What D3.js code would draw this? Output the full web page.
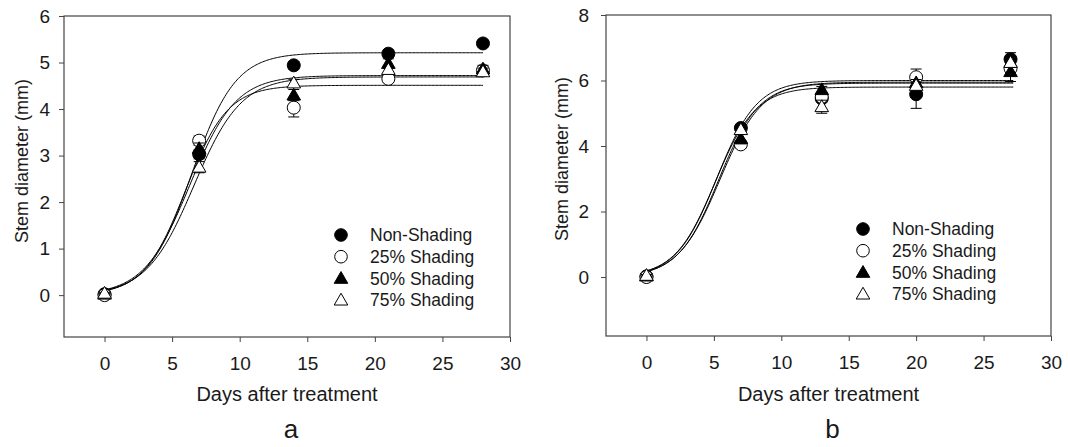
<!DOCTYPE html>
<html>
<head>
<meta charset="utf-8">
<script src="https://cdn.jsdelivr.net/npm/d3@7/dist/d3.min.js"></script>
<style>
  body { margin: 0; background: #fff; }
  svg { display: block; }
</style>
</head>
<body>
<svg id="chart" width="1068" height="447"></svg>
<script>
// Series names
const seriesNames = ['Non-Shading', '25% Shading', '50% Shading', '75% Shading'];

// Panel a: days and means
const daysA = [0, 7, 14, 21, 28];
const nonShadingA = [0.02, 3.03, 4.94, 5.19, 5.41];
const shade25A = [0.00, 3.32, 4.03, 4.65, 4.83];
const shade50A = [0.02, 3.15, 4.30, 4.98, 4.86];
const shade75A = [0.04, 2.75, 4.56, 4.85, 4.80];
// standard errors
const seNonShadingA = [0.02, 0.10, 0.08, 0.08, 0.06];
const seShade25A = [0.02, 0.10, 0.20, 0.08, 0.08];
const seShade50A = [0.02, 0.12, 0.12, 0.10, 0.08];
const seShade75A = [0.02, 0.12, 0.08, 0.08, 0.08];
// sigmoid fits (a / (1 + exp(-(x - x0) / b)))
const fitAsymA = [5.21, 4.51, 4.72, 4.69];
const fitMidA = [6.45, 6.00, 6.30, 6.60];
const fitRateA = [1.62, 1.55, 1.70, 1.75];

// Panel b
const daysB = [0, 7, 13, 20, 27];
const nonShadingB = [0.02, 4.55, 5.45, 5.58, 6.65];
const shade25B = [0.00, 4.05, 5.50, 6.10, 6.37];
const shade50B = [0.03, 4.22, 5.72, 5.93, 6.27];
const shade75B = [0.05, 4.50, 5.20, 5.85, 6.55];
const seNonShadingB = [0.03, 0.10, 0.10, 0.43, 0.20];
const seShade25B = [0.03, 0.10, 0.10, 0.25, 0.15];
const seShade50B = [0.03, 0.15, 0.10, 0.10, 0.30];
const seShade75B = [0.03, 0.10, 0.20, 0.10, 0.15];
const fitAsymB = [6.00, 5.95, 5.92, 5.80];
const fitMidB = [5.20, 5.45, 5.35, 5.10];
const fitRateB = [1.50, 1.55, 1.50, 1.50];

// Tick labels
const xTicks = [0, 5, 10, 15, 20, 25, 30];
const yTicksA = [0, 1, 2, 3, 4, 5, 6];
const yTicksB = [0, 2, 4, 6, 8];

// marker styles per series
const markerShape = ['circle', 'circle', 'triangle', 'triangle'];
const markerFill = ['#000', '#fff', '#000', '#fff'];

const font = '"Liberation Sans", Arial, sans-serif';
const textColor = '#1a1a1a';
const svg = d3.select('#chart');

function drawPanel(cfg) {
    const x = d3.scaleLinear().domain([-3, 30]).range([cfg.left, cfg.right]);
    const y = d3.scaleLinear().domain(cfg.yDomain).range([cfg.bottom, cfg.top]);
    const g = svg.append('g');

    // Frame
    g.append('rect')
        .attr('x', cfg.left).attr('y', cfg.top)
        .attr('width', cfg.right - cfg.left).attr('height', cfg.bottom - cfg.top)
        .attr('fill', 'none').attr('stroke', '#444').attr('stroke-width', 1.2);

    // Axes
    const styleAxis = a => {
        a.select('.domain').remove();
        a.selectAll('line').attr('stroke', '#444');
        a.selectAll('text').attr('font-family', font).attr('font-size', 19).attr('fill', textColor);
    };
    g.append('g')
        .attr('transform', `translate(0,${cfg.bottom})`)
        .call(d3.axisBottom(x).tickValues(xTicks).tickFormat(d3.format('d')).tickSize(5).tickPadding(15))
        .call(styleAxis);

    g.append('g')
        .attr('transform', `translate(${cfg.left},0)`)
        .call(d3.axisLeft(y).tickValues(cfg.yTicks).tickFormat(d3.format('d')).tickSize(5).tickPadding(cfg.yPad))
        .call(styleAxis);

    // Titles
    g.append('text')
        .attr('x', (cfg.left + cfg.right) / 2).attr('y', 401)
        .attr('text-anchor', 'middle').attr('font-family', font).attr('font-size', 20).attr('fill', textColor)
        .text('Days after treatment');
    g.append('text')
        .attr('transform', `translate(${cfg.yTitleX},${cfg.yTitleY}) rotate(-90)`)
        .attr('text-anchor', 'middle').attr('dy', '0.35em')
        .attr('font-family', font).attr('font-size', 18).attr('fill', textColor)
        .text('Stem diameter (mm)');
    g.append('text')
        .attr('x', (cfg.left + cfg.right) / 2 + 4).attr('y', 438)
        .attr('text-anchor', 'middle').attr('font-family', font).attr('font-size', 26).attr('fill', textColor)
        .text(cfg.letter);

    // Fitted curves
    const line = d3.line().x(d => x(d[0])).y(d => y(d[1]));
    cfg.asym.forEach((a, i) => {
        const pts = d3.range(0, cfg.lastDay + 0.001, 0.1)
            .map(t => [t, a / (1 + Math.exp(-(t - cfg.mid[i]) / cfg.rate[i]))]);
        g.append('path').datum(pts)
            .attr('d', line).attr('fill', 'none')
            .attr('stroke', '#000').attr('stroke-width', 1);
    });

    // Points with error bars
    const tri = d3.symbol(d3.symbolTriangle, 80)();
    cfg.values.forEach((vals, i) => {
        const sg = g.append('g');
        vals.forEach((v, j) => {
            const cx = x(cfg.days[j]);
            const se = cfg.errors[i][j];
            sg.append('line')
                .attr('x1', cx).attr('x2', cx)
                .attr('y1', y(v - se)).attr('y2', y(v + se))
                .attr('stroke', '#000').attr('stroke-width', 1);
            [v - se, v + se].forEach(e => {
                sg.append('line')
                    .attr('x1', cx - 5.5).attr('x2', cx + 5.5)
                    .attr('y1', y(e)).attr('y2', y(e))
                    .attr('stroke', '#000').attr('stroke-width', 1);
            });
        });
        vals.forEach((v, j) => {
            const cx = x(cfg.days[j]);
            if (markerShape[i] === 'circle') {
                sg.append('circle').attr('cx', cx).attr('cy', y(v)).attr('r', 6.5)
                    .attr('fill', markerFill[i]).attr('stroke', '#000').attr('stroke-width', 1);
            } else {
                sg.append('path').attr('d', tri)
                    .attr('transform', `translate(${cx},${y(v) + 1})`)
                    .attr('fill', markerFill[i]).attr('stroke', '#000').attr('stroke-width', 1);
            }
        });
    });

    // Legend
    const lg = g.append('g');
    seriesNames.forEach((name, i) => {
        const ly = cfg.legendY + i * 21.7;
        if (markerShape[i] === 'circle') {
            lg.append('circle').attr('cx', cfg.legendX).attr('cy', ly).attr('r', 6.3)
                .attr('fill', markerFill[i]).attr('stroke', '#000').attr('stroke-width', 1);
        } else {
            lg.append('path').attr('d', tri)
                .attr('transform', `translate(${cfg.legendX},${ly + 1})`)
                .attr('fill', markerFill[i]).attr('stroke', '#000').attr('stroke-width', 1);
        }
        lg.append('text')
            .attr('x', cfg.legendX + 29).attr('y', ly).attr('dy', '0.35em')
            .attr('font-family', font).attr('font-size', 17.5).attr('fill', textColor)
            .text(name);
    });
}

drawPanel({
    left: 64, right: 510, top: 16, bottom: 337,
    yDomain: [-0.9, 6], yTicks: yTicksA, yPad: 9, yTitleX: 22, yTitleY: 161,
    days: daysA,
    values: [nonShadingA, shade25A, shade50A, shade75A],
    errors: [seNonShadingA, seShade25A, seShade50A, seShade75A],
    asym: fitAsymA, mid: fitMidA, rate: fitRateA, lastDay: 28,
    legendX: 341, legendY: 235, letter: 'a'
});

drawPanel({
    left: 606, right: 1051, top: 15, bottom: 336,
    yDomain: [-1.8, 8], yTicks: yTicksB, yPad: 12, yTitleX: 562, yTitleY: 159,
    days: daysB,
    values: [nonShadingB, shade25B, shade50B, shade75B],
    errors: [seNonShadingB, seShade25B, seShade50B, seShade75B],
    asym: fitAsymB, mid: fitMidB, rate: fitRateB, lastDay: 27.2,
    legendX: 863, legendY: 229, letter: 'b'
});
</script>
</body>
</html>
